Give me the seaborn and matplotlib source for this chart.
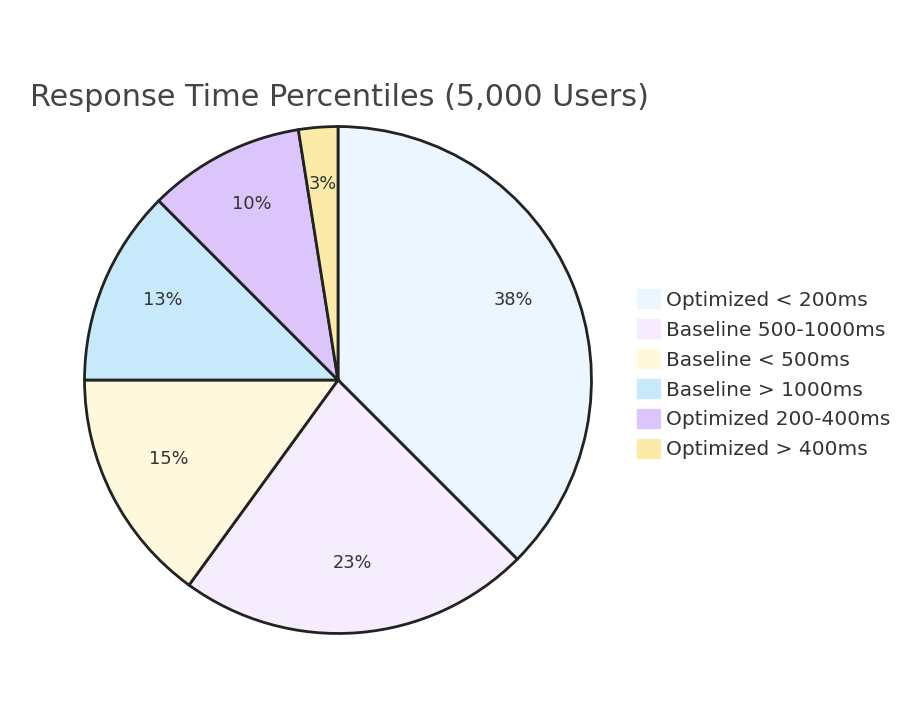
import matplotlib
matplotlib.use("Agg")
import matplotlib.pyplot as plt
import matplotlib.patches as mpatches
import seaborn as sns
import math

# data
labels = ["Optimized < 200ms", "Baseline 500-1000ms", "Baseline < 500ms",
          "Baseline > 1000ms", "Optimized 200-400ms", "Optimized > 400ms"]
values = [45, 27, 18, 15, 12, 3]
colors = ["#ecf6fe", "#f5edfd", "#fef9dc", "#c8e9fc", "#dcc5fb", "#fbeaa8"]

sns.set_theme(style="white")
plt.rcParams["font.family"] = ["DejaVu Sans"]

W, H = 899, 702
fig = plt.figure(figsize=(W / 100, H / 100), dpi=100)
fig.patch.set_facecolor("white")

cx, cy, r = 338, 380, 256
ax = fig.add_axes([(cx - r) / W, (H - cy - r) / H, 2 * r / W, 2 * r / H])


def pct(p):
    # round half up like the original renderer
    return f"{math.floor(p + 0.5):d}%"


wedges, texts, autotexts = ax.pie(
    values, colors=colors, startangle=90, counterclock=False,
    autopct=pct, pctdistance=0.75,
    wedgeprops=dict(edgecolor="#222222", linewidth=2),
    textprops=dict(color="#333333", fontsize=12.8),
)
# labels sit a bit above the slice's label point in the original
for t in autotexts:
    x, y = t.get_position()
    t.set_position((x, y + 0.027))
ax.set_xlim(-1.01, 1.01)
ax.set_ylim(-1.01, 1.01)
ax.set_aspect("equal")
ax.axis("off")

fig.text(30 / W, 1 - 97 / H, "Response Time Percentiles (5,000 Users)",
         fontsize=21.8, color="#444444", va="center", ha="left")

handles = [mpatches.Patch(facecolor=c, edgecolor=c, label=l) for c, l in zip(colors, labels)]
leg = fig.legend(handles=handles, loc="upper left",
                 bbox_to_anchor=(629 / W, 1 - 281 / H), frameon=False,
                 fontsize=14.5, handlelength=1.15, handleheight=1.1,
                 handletextpad=0.3, labelspacing=0.47, borderaxespad=0)
for t in leg.get_texts():
    t.set_color("#333333")

fig.savefig("out.png", dpi=100, facecolor="white")
